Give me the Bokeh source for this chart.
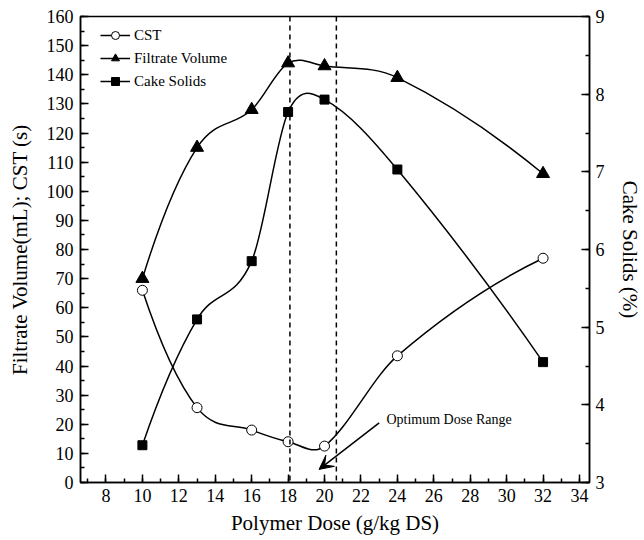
import numpy as np
from bokeh.plotting import figure
from bokeh.models import (Range1d, LinearAxis, SingleIntervalTicker, Span, Arrow,
                          VeeHead, Label, Legend, LegendItem, ColumnDataSource)
from bokeh.embed import file_html
from bokeh.resources import INLINE

# ---- data ----
dose = [10, 13, 16, 18, 20, 24, 32]
cst = [66, 25.7, 18, 14, 12.5, 43.5, 77]
filtrate = [70, 115, 128, 144, 143, 139, 106]
cake_solids = [3.48, 5.1, 5.85, 7.77, 7.93, 7.03, 4.55]

optimum_range = [18.1, 20.65]
arrow_tail = [23.0, 20.5]
arrow_head = [19.7, 4.5]
annotation_text = "Optimum Dose Range"
annotation_pos = [23.4, 21.5]

FONT = "'Liberation Serif', serif"


def smooth_segments(xs, ys):
    """Cubic Bezier segments (Catmull-Rom style tangents) through the points."""
    xs = np.asarray(xs, float)
    ys = np.asarray(ys, float)
    n = len(xs)
    m = np.zeros(n)
    for i in range(1, n - 1):
        m[i] = (ys[i + 1] - ys[i - 1]) / (xs[i + 1] - xs[i - 1])
    s0 = (ys[1] - ys[0]) / (xs[1] - xs[0])
    s1 = (ys[-1] - ys[-2]) / (xs[-1] - xs[-2])
    m[0] = 2 * s0 - m[1]
    m[-1] = 2 * s1 - m[-2]
    h = xs[1:] - xs[:-1]
    return dict(
        x0=xs[:-1], y0=ys[:-1], x1=xs[1:], y1=ys[1:],
        cx0=xs[:-1] + h / 3, cy0=ys[:-1] + m[:-1] * h / 3,
        cx1=xs[1:] - h / 3, cy1=ys[1:] - m[1:] * h / 3,
    )


p = figure(width=644, height=540, output_backend="svg", toolbar_location=None,
           x_range=Range1d(6.6, 34.55), y_range=Range1d(0, 160),
           min_border_left=80, min_border_right=52, min_border_top=16,
           min_border_bottom=58)
p.background_fill_color = "white"
p.border_fill_color = "white"
p.xgrid.visible = False
p.ygrid.visible = False
p.outline_line_color = "black"
p.outline_line_width = 1.5

p.extra_y_ranges = {"solids": Range1d(3, 9)}

# axes styling
def style_axis(ax, interval):
    ax.ticker = SingleIntervalTicker(interval=interval, num_minor_ticks=2)
    ax.axis_line_color = "black"
    ax.axis_line_width = 1.5
    ax.major_tick_in = 8
    ax.major_tick_out = 0
    ax.minor_tick_in = 4
    ax.minor_tick_out = 0
    ax.major_tick_line_width = 1.5
    ax.minor_tick_line_width = 1.5
    ax.major_label_text_font = FONT
    ax.major_label_text_font_size = "18px"
    ax.major_label_text_color = "black"
    ax.axis_label_text_font = FONT
    ax.axis_label_text_font_style = "normal"
    ax.axis_label_text_font_size = "21px"
    ax.axis_label_text_color = "black"

style_axis(p.xaxis[0], 2)
p.xaxis[0].axis_label = "Polymer Dose (g/kg DS)"
p.xaxis[0].major_label_standoff = 6
p.xaxis[0].axis_label_standoff = 6

style_axis(p.yaxis[0], 10)
p.yaxis[0].axis_label = "Filtrate Volume(mL); CST (s)"
p.yaxis[0].major_label_standoff = 7
p.yaxis[0].axis_label_standoff = 12

right = LinearAxis(y_range_name="solids", axis_label="Cake Solids (%)")
style_axis(right, 1)
right.major_label_standoff = 6
right.axis_label_standoff = 10
p.add_layout(right, "right")

# optimum range dashed lines
for loc in optimum_range:
    p.add_layout(Span(location=loc, dimension="height", line_color="black",
                      line_width=1.5, line_dash="5 4"))

# curves
src_cst = ColumnDataSource(smooth_segments(dose, cst))
src_fil = ColumnDataSource(smooth_segments(dose, filtrate))
src_cake = ColumnDataSource(smooth_segments(dose, cake_solids))

bz_args = dict(x0="x0", y0="y0", x1="x1", y1="y1", cx0="cx0", cy0="cy0",
               cx1="cx1", cy1="cy1", line_color="black", line_width=1.5)
l_cst = p.bezier(source=src_cst, **bz_args)
l_fil = p.bezier(source=src_fil, **bz_args)
l_cake = p.bezier(source=src_cake, y_range_name="solids", **bz_args)

m_cst = p.scatter(dose, cst, marker="circle", size=10, fill_color="white",
                  line_color="black", line_width=1)
m_fil = p.scatter(dose, filtrate, marker="triangle", size=13, fill_color="black",
                  line_color="black")
m_cake = p.scatter(dose, cake_solids, marker="square", size=9, fill_color="black",
                   line_color="black", y_range_name="solids")

# annotation
p.add_layout(Arrow(x_start=arrow_tail[0], y_start=arrow_tail[1],
                   x_end=arrow_head[0], y_end=arrow_head[1],
                   line_color="black", line_width=1.5,
                   end=VeeHead(size=14, fill_color="black", line_color="black")))
p.add_layout(Label(x=annotation_pos[0], y=annotation_pos[1], text=annotation_text,
                   text_font=FONT, text_font_size="14px", text_color="black",
                   text_baseline="middle"))

legend = Legend(items=[
    LegendItem(label="CST", renderers=[l_cst, m_cst]),
    LegendItem(label="Filtrate Volume", renderers=[l_fil, m_fil]),
    LegendItem(label="Cake Solids", renderers=[l_cake, m_cake]),
], location=(20, 391), orientation="vertical")
legend.border_line_color = None
legend.background_fill_alpha = 0
legend.margin = 0
legend.padding = 0
legend.spacing = 3
legend.label_height = 20
legend.glyph_height = 20
legend.glyph_width = 30
legend.label_standoff = 4
legend.label_text_font = FONT
legend.label_text_font_size = "15px"
legend.label_text_color = "black"
p.add_layout(legend)

open("out.html", "w").write(file_html(p, INLINE))
